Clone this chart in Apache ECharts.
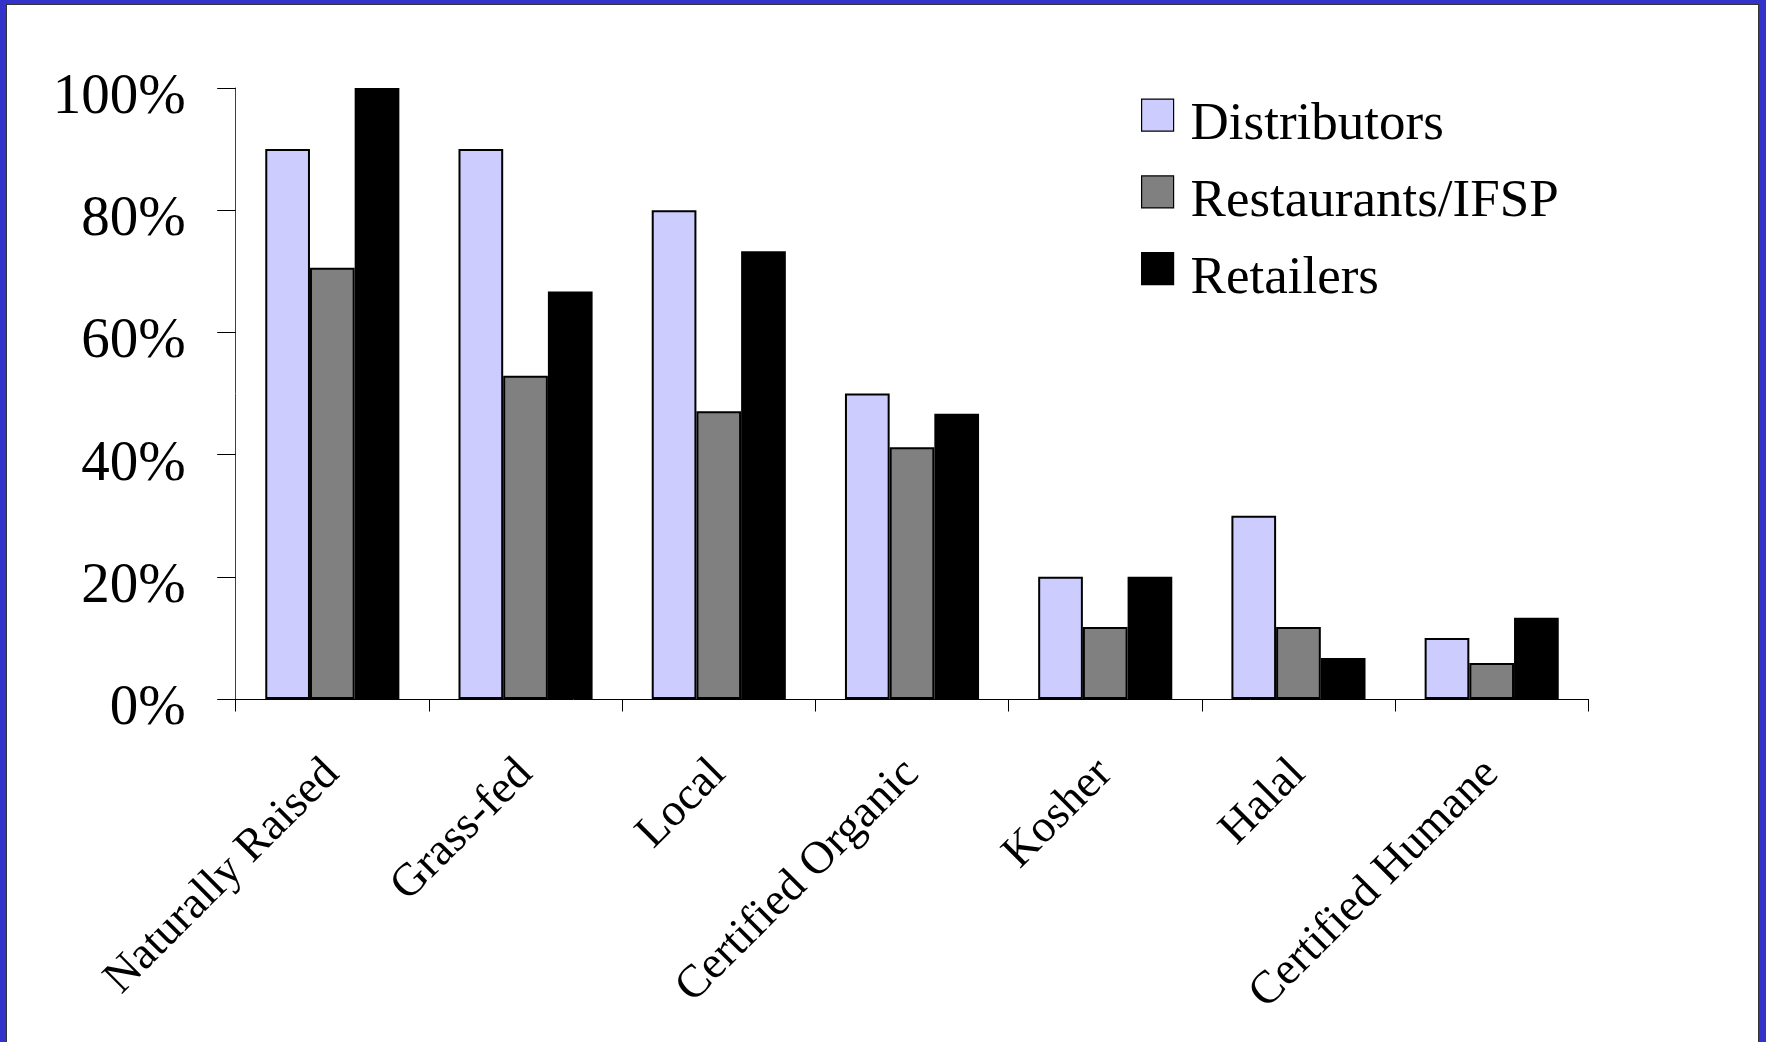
<!DOCTYPE html>
<html>
<head>
<meta charset="utf-8">
<title>Claims by buyer type</title>
<script src="https://cdn.jsdelivr.net/npm/echarts@6/dist/echarts.min.js"></script>
<style>
  html, body { margin: 0; padding: 0; width: 1766px; height: 1042px; overflow: hidden; background: #3333cc; }
  #frame { position: absolute; left: 6px; top: 4px; width: 1751px; height: 1040px; background: #ffffff;
           border-left: 1px solid #333; border-top: 1px solid #333; border-right: 1px solid #333; }
  #chart { position: absolute; left: 0; top: 0; width: 1766px; height: 1042px; }
</style>
</head>
<body>
<div id="frame"></div>
<div id="chart"></div>
<script>
// Share of each buyer group that values each production claim (%)
const categories = ['Naturally Raised', 'Grass-fed', 'Local', 'Certified Organic', 'Kosher', 'Halal', 'Certified Humane'];
const seriesNames = ['Distributors', 'Restaurants/IFSP', 'Retailers'];
const distributors = [90, 90, 80, 50, 20, 30, 10];
const restaurants = [70.6, 52.9, 47.1, 41.2, 11.8, 11.8, 5.9];
const retailers = [100, 66.7, 73.3, 46.7, 20, 6.7, 13.3];
const yTicks = [0, 20, 40, 60, 80, 100];

const FONT = "'Liberation Serif', 'Times New Roman', serif";
const fills = ['#ccccff', '#808080', '#000000'];
const values = [distributors, restaurants, retailers];

// Legend swatch: a 32px square sitting in the upper part of a 52px-tall item,
// so the label text lines up slightly below the square's centre.
const swatch = 'path://M0,0h32v32h-32z M0,52h0.01';

const chart = echarts.init(document.getElementById('chart'), null, { renderer: 'canvas' });

chart.setOption({
  backgroundColor: 'transparent',
  animation: false,
  grid: { left: 235.7, right: 177.7, top: 88, bottom: 343, containLabel: false },
  legend: {
    orient: 'vertical',
    left: 1141,
    top: 98.5,
    padding: 0,
    itemWidth: 32,
    itemHeight: 52,
    itemGap: 23.6,
    icon: swatch,
    itemStyle: { borderColor: '#000', borderWidth: 1.2 },
    data: seriesNames,
    textStyle: {
      fontFamily: FONT, fontSize: 53, color: '#000', lineHeight: 53,
      padding: [0, 0, 0, 12]
    }
  },
  xAxis: {
    type: 'category',
    data: categories,
    axisLine: { show: true, lineStyle: { color: '#000', width: 1 } },
    axisTick: { show: true, length: 12.5, lineStyle: { color: '#000', width: 1 } },
    axisLabel: {
      rotate: 45,
      interval: 0,
      margin: 68,
      fontFamily: FONT,
      fontSize: 46,
      color: '#000',
      padding: [64, 0, 0, 0]
    },
    splitLine: { show: false }
  },
  yAxis: {
    type: 'value',
    min: yTicks[0],
    max: yTicks[yTicks.length - 1],
    interval: yTicks[1] - yTicks[0],
    axisLine: { show: true, lineStyle: { color: '#404040', width: 1 } },
    axisTick: { show: true, length: 18.5, lineStyle: { color: '#000', width: 1 } },
    axisLabel: {
      margin: 50,
      formatter: '{value}%',
      fontFamily: FONT,
      fontSize: 57,
      color: '#000',
      verticalAlign: 'top',
      lineHeight: 20
    },
    splitLine: { show: false }
  },
  series: seriesNames.map((name, i) => ({
    name: name,
    type: 'bar',
    data: values[i],
    barGap: '0%',
    barCategoryGap: '30.6%',
    itemStyle: { color: fills[i], borderColor: '#000', borderWidth: 2 }
  }))
});
</script>
</body>
</html>
